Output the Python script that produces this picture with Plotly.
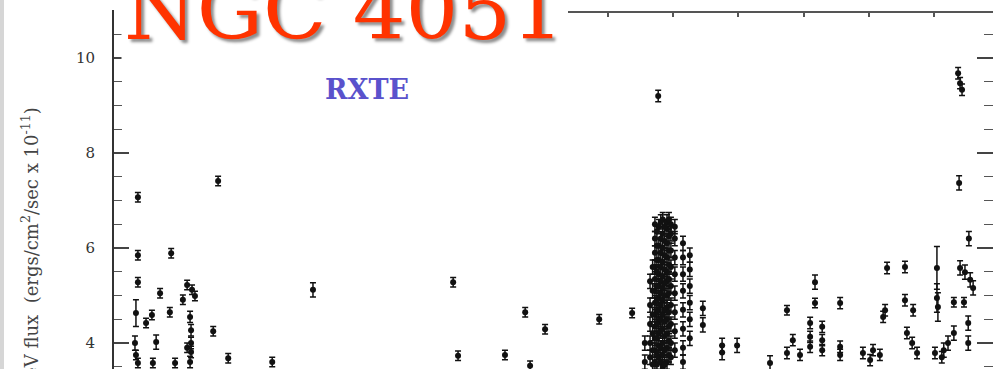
import plotly.graph_objects as go

# ---- data (MJD, flux in 1e-11 erg/cm2/s, error) ----
mjd_early = [50158, 50404, 50158, 50260, 50158, 50226, 50309, 50324, 50333, 50296,
             50152, 50183, 50201, 50256, 50318, 50321, 50321, 50321, 50318, 50309,
             50389, 50149, 50214, 50435, 50158, 50204, 50272, 50570, 50152]
flux_early = [7.07, 7.41, 5.85, 5.89, 5.28, 5.05, 5.22, 5.12, 4.99, 4.91,
              4.63, 4.42, 4.59, 4.65, 4.55, 4.27, 4.00, 3.81, 3.60, 3.90,
              4.25, 4.00, 4.02, 3.68, 3.58, 3.58, 3.58, 3.60, 3.75]
err_early = [0.10, 0.10, 0.10, 0.10, 0.10, 0.10, 0.10, 0.10, 0.10, 0.10,
             0.28, 0.10, 0.10, 0.10, 0.12, 0.12, 0.12, 0.12, 0.12, 0.10,
             0.10, 0.15, 0.15, 0.10, 0.10, 0.10, 0.10, 0.10, 0.10]

mjd_mid = [50695, 51125, 51140, 51284, 51346, 51407, 51361, 51573, 51674, 51754]
flux_mid = [5.12, 5.28, 3.73, 3.75, 4.65, 4.29, 3.52, 4.50, 4.63, 9.20]
err_mid = [0.15, 0.10, 0.10, 0.10, 0.10, 0.10, 0.10, 0.10, 0.10, 0.12]

mjd_dense = ([51744] * 12 + [51756] * 11 + [51768] * 12 + [51781] * 12 + [51793] * 9 +
             [51805] * 8 + [51729] * 5 + [51713] * 2 + [51830] * 8 + [51851] * 6 +
             [51891] * 2 + [51950] * 2 + [51996, 52097] +
             [51750] * 11 + [51762] * 11 + [51774] * 11 + [51787] * 10 + [51737] * 6)
flux_dense = ([6.5, 6.2, 5.9, 5.6, 5.35, 5.1, 4.85, 4.6, 4.35, 4.1, 3.85, 3.6] +
              [6.45, 6.05, 5.75, 5.45, 5.2, 4.95, 4.7, 4.45, 4.2, 3.95, 3.7] +
              [6.6, 6.3, 6.0, 5.7, 5.4, 5.15, 4.9, 4.6, 4.3, 4.0, 3.75, 3.5] +
              [6.55, 6.4, 6.1, 5.8, 5.5, 5.3, 5.0, 4.75, 4.5, 4.2, 3.9, 3.6] +
              [6.5, 6.3, 5.95, 5.6, 5.2, 4.8, 4.4, 4.0, 3.7] +
              [6.45, 6.2, 5.8, 5.45, 5.05, 4.65, 4.25, 3.85] +
              [5.3, 4.8, 4.4, 4.0, 3.7] +
              [4.0, 3.6] +
              [6.1, 5.8, 5.45, 5.1, 4.7, 4.3, 3.9, 3.6] +
              [5.85, 5.55, 5.2, 4.85, 4.5, 4.1] +
              [4.73, 4.38] + [3.95, 3.8] + [3.95, 3.58] +
              [6.35, 6.05, 5.75, 5.5, 5.2, 4.9, 4.65, 4.4, 4.1, 3.8, 3.55] +
              [6.55, 6.2, 5.9, 5.6, 5.3, 5.05, 4.8, 4.5, 4.25, 3.9, 3.6] +
              [6.45, 6.15, 5.85, 5.55, 5.25, 5.0, 4.7, 4.45, 4.15, 3.85, 3.55] +
              [6.6, 6.25, 5.95, 5.65, 5.35, 5.05, 4.65, 4.35, 4.05, 3.75] +
              [5.6, 5.1, 4.6, 4.2, 3.85, 3.55])
err_dense = [0.15] * len(flux_dense)

mjd_late = [52149, 52235, 52235, 52312, 52220, 52257, 52220, 52257, 52167, 52220,
            52257, 52149, 52189, 52312, 52312, 52382, 52413, 52434, 52404, 52456,
            52511, 52450, 52444, 52511, 52536, 52517, 52533, 52548, 52609, 52609,
            52612, 52603, 52624, 52661, 52692, 52680, 52695, 52711, 52720, 52705,
            52705, 52661, 52643, 52630, 52707, 52674, 52680, 52686, 52677]
flux_late = [4.69, 5.28, 4.84, 4.84, 4.42, 4.34, 4.13, 4.06, 4.06, 3.92,
             3.85, 3.79, 3.75, 3.92, 3.75, 3.79, 3.85, 3.75, 3.64, 5.58,
             5.60, 4.69, 4.55, 4.90, 4.69, 4.21, 4.00, 3.79, 5.58, 4.95,
             4.76, 3.79, 3.70, 4.86, 4.86, 5.58, 5.49, 5.33, 5.16, 4.42,
             4.00, 4.21, 4.00, 3.85, 6.20, 9.68, 9.47, 9.33, 7.37]
err_late = [0.10, 0.15, 0.10, 0.12, 0.12, 0.12, 0.12, 0.12, 0.12, 0.12,
            0.12, 0.12, 0.12, 0.12, 0.12, 0.12, 0.12, 0.12, 0.12, 0.12,
            0.12, 0.12, 0.12, 0.12, 0.12, 0.12, 0.12, 0.12, 0.45, 0.30,
            0.30, 0.12, 0.12, 0.10, 0.10, 0.15, 0.15, 0.15, 0.15, 0.15,
            0.15, 0.15, 0.15, 0.15, 0.15, 0.12, 0.12, 0.12, 0.15]

mjd = mjd_early + mjd_mid + mjd_dense + mjd_late
flux = flux_early + flux_mid + flux_dense + flux_late
flux_err = err_early + err_mid + err_dense + err_late

x_range = [50081.6, 52781]
y_range = [3.453, 10.968]

fig = go.Figure()
fig.add_trace(go.Scatter(
    x=mjd, y=flux, mode="markers",
    marker=dict(symbol="circle", size=6, color="#111111"),
    error_y=dict(type="data", array=flux_err, visible=True, color="#111111",
                 thickness=1.5, width=3),
    showlegend=False, hoverinfo="skip"))

W, H = 993, 369
ML, MT = 113, 12
PW, PH = W - ML, H - MT

fig.update_layout(
    width=W, height=H,
    margin=dict(l=ML, r=0, t=MT, b=0, pad=0),
    paper_bgcolor="white", plot_bgcolor="white",
    xaxis=dict(range=x_range, side="top", tick0=50200, dtick=200,
               ticks="inside", ticklen=5, tickwidth=1.5, tickcolor="#555",
               showticklabels=False, showline=False, showgrid=False,
               zeroline=False),
    yaxis=dict(range=y_range, tickmode="linear", tick0=0, dtick=2,
               ticks="inside", ticklen=16, tickwidth=1.5, tickcolor="#444",
               mirror="ticks", showline=False, showgrid=False, zeroline=False,
               ticklabelstandoff=17,
               tickfont=dict(family="DejaVu Serif", size=15, color="#333"),
               minor=dict(tick0=0, dtick=0.5, ticks="inside", ticklen=9,
                          tickwidth=1.2, tickcolor="#555", showgrid=False)),
    shapes=[
        dict(type="line", xref="paper", yref="paper", x0=0, x1=0,
             y0=0, y1=1 + 2 / PH, line=dict(color="#333", width=2)),
        dict(type="line", xref="paper", yref="paper", x0=(568 - ML) / PW, x1=1,
             y0=1, y1=1, line=dict(color="#555", width=2)),
        dict(type="rect", xref="paper", yref="paper", x0=-ML / PW, x1=(4 - ML) / PW,
             y0=-0.05, y1=1.05, line=dict(width=0), fillcolor="#d6d6d6"),
    ],
    annotations=[
        dict(text="NGC 4051", xref="paper", yref="paper", x=0, y=1,
             xanchor="left", yanchor="bottom", xshift=8, yshift=-50,
             showarrow=False, bgcolor="white", borderpad=2,
             font=dict(family="DejaVu Serif", size=83, color="#ff3300",
                       shadow="3px 3px 3px rgba(0,0,0,0.45)")),
        dict(text="<b>RXTE</b>", xref="paper", yref="paper",
             x=(367 - ML) / PW, y=1 - (89 - MT) / PH, xanchor="center",
             yanchor="middle", showarrow=False,
             font=dict(family="DejaVu Serif", size=27, color="#5a52cc")),
        dict(text="2-10 keV flux  (ergs/cm<sup>2</sup>/sec x 10<sup>-11</sup>)",
             xref="paper", yref="paper", x=0, xshift=-83,
             y=1 - (105 - MT) / PH, xanchor="center", yanchor="top",
             textangle=-90, showarrow=False,
             font=dict(family="DejaVu Serif", size=18, color="#444")),
    ],
)

fig.write_html("out.html")
